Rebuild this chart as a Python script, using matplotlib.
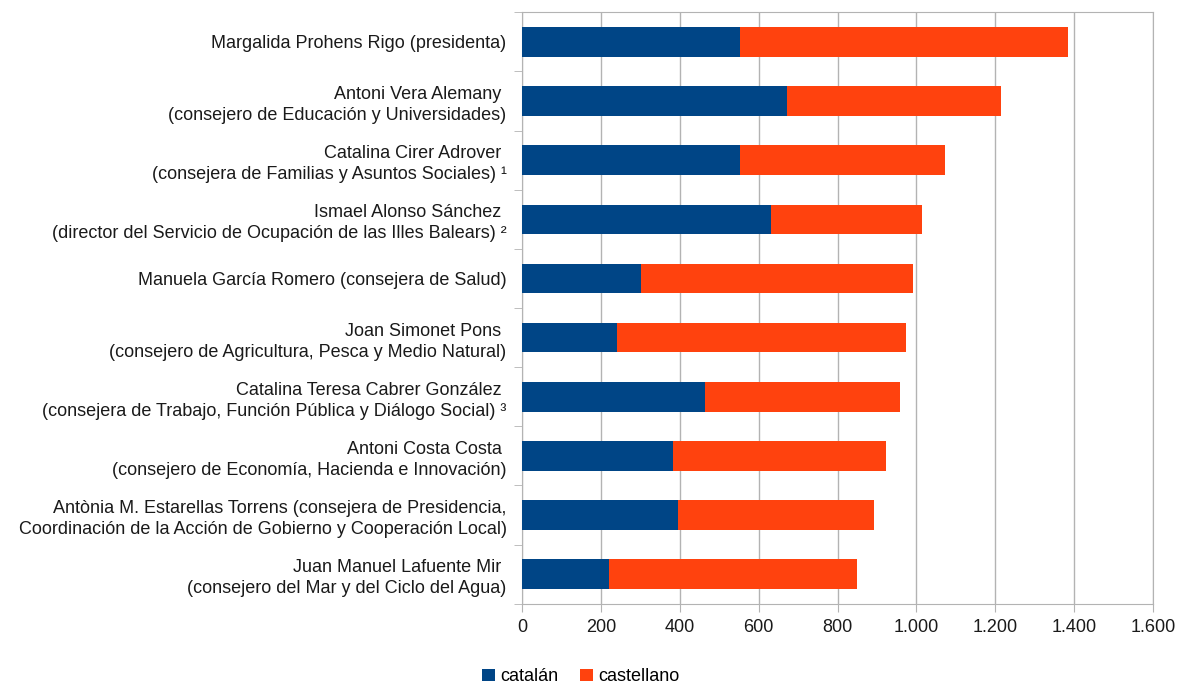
import matplotlib.pyplot as plt
import numpy as np
from matplotlib.ticker import FuncFormatter, FixedLocator

plt.rcParams.update({
    "font.family": ["Liberation Sans", "DejaVu Sans"],
    "font.size": 13,
})

NAMES = [
    "Margalida Prohens Rigo (presidenta)",
    "Antoni Vera Alemany \n(consejero de Educación y Universidades)",
    "Catalina Cirer Adrover \n(consejera de Familias y Asuntos Sociales) ¹",
    "Ismael Alonso Sánchez \n(director del Servicio de Ocupación de las Illes Balears) ²",
    "Manuela García Romero (consejera de Salud)",
    "Joan Simonet Pons \n(consejero de Agricultura, Pesca y Medio Natural)",
    "Catalina Teresa Cabrer González \n(consejera de Trabajo, Función Pública y Diálogo Social) ³",
    "Antoni Costa Costa \n(consejero de Economía, Hacienda e Innovación)",
    "Antònia M. Estarellas Torrens (consejera de Presidencia,\nCoordinación de la Acción de Gobierno y Cooperación Local)",
    "Juan Manuel Lafuente Mir \n(consejero del Mar y del Ciclo del Agua)",
]
CATALAN = [552, 673, 552, 631, 302, 242, 463, 384, 395, 220]
CASTELLANO = [833, 540, 521, 382, 690, 732, 496, 539, 497, 630]

BLUE = "#004586"
ORANGE = "#ff420e"
GRID = "#b3b3b3"

fig = plt.figure(figsize=(11.78, 6.83), dpi=100)
ax = fig.add_axes([0.443, 0.116, 0.536, 0.866])

y = np.arange(len(NAMES))
cat = np.array(CATALAN)
cas = np.array(CASTELLANO)
ax.barh(y, cat, height=0.5, color=BLUE, label="catalán", zorder=3)
ax.barh(y, cas, left=cat, height=0.5, color=ORANGE, label="castellano", zorder=3)

ax.set_ylim(len(NAMES) - 0.5, -0.5)
ax.set_xlim(0, 1600)
ax.set_xticks(np.arange(0, 1601, 200))
ax.xaxis.set_major_formatter(FuncFormatter(lambda v, p: f"{int(v):,}".replace(",", ".")))

ax.set_yticks(y)
ax.set_yticklabels(NAMES, ha="right", linespacing=1.3)
ax.yaxis.set_minor_locator(FixedLocator(np.arange(-0.5, len(NAMES), 1)))
ax.tick_params(axis="y", which="major", length=0, pad=11, colors="#1a1a1a")
ax.tick_params(axis="y", which="minor", length=6, color=GRID)
ax.tick_params(axis="x", length=6, color=GRID, colors="#1a1a1a", pad=5)

ax.grid(True, axis="x", color=GRID, lw=1, zorder=0)
for s in ax.spines.values():
    s.set_color(GRID)

fig.legend(loc="lower center", bbox_to_anchor=(0.493, -0.027), ncol=2, frameon=False,
           handlelength=0.7, handleheight=0.7, handletextpad=0.3, columnspacing=1.2)

fig.savefig("out.png", dpi=100)
